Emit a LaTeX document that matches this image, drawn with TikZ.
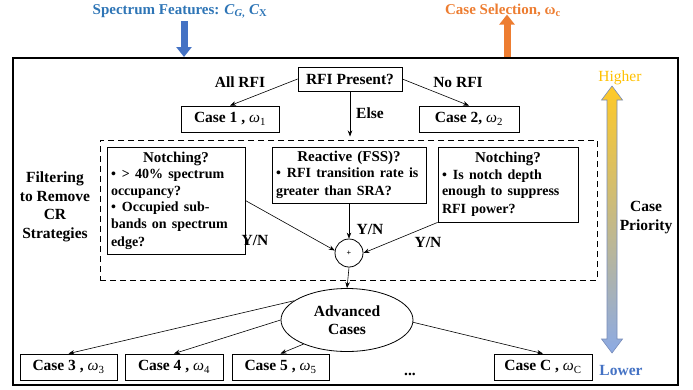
\documentclass[tikz,border=0pt]{standalone}
\usepackage{fontspec}
\setmainfont{Liberation Serif}
\usetikzlibrary{arrows.meta,shapes.geometric}

\definecolor{featblue}{RGB}{46,117,182}
\definecolor{featarrow}{RGB}{68,114,196}
\definecolor{selorange}{RGB}{237,125,49}
\definecolor{hiyellow}{RGB}{255,192,0}
\definecolor{loblue}{RGB}{68,114,196}
\definecolor{prioedge}{RGB}{120,140,185}

\newcommand{\qitem}[1]{\par\hangindent=11pt\hangafter=1\noindent\makebox[11pt][l]{\textbullet}#1}
\newcommand{\wt}[1]{{\mdseries\itshape ω}\textsubscript{\mdseries #1}}

\begin{document}
\begin{tikzpicture}[x=1pt, y=-1pt,
    font=\bfseries\fontsize{15.5}{18}\selectfont,
    box/.style={draw, line width=0.8pt, inner sep=0pt, minimum height=26pt},
    qbox/.style={draw, line width=0.8pt, inner xsep=4pt, inner ysep=0pt},
    lbl/.style={inner sep=0pt},
    link/.style={-{Stealth[length=6pt,width=4.5pt]}, line width=0.6pt},
    fat/.style={line width=7pt, -{Triangle[width=15pt,length=10pt]}}]
    \useasboundingbox (0,0) rectangle (693,389);

    \node[draw, line width=2.5pt, minimum width=665, minimum height=327, inner sep=0pt] (frame) at (345.5,221.5) {};

    \node[lbl, text=featblue, font=\bfseries\fontsize{15}{18}\selectfont] (feat) at (180,11) {Spectrum Features: \textit{C}\textsubscript{\textit{G},} \textit{C}\textsubscript{X}};
    \node[lbl, text=selorange, font=\bfseries\fontsize{15}{18}\selectfont] (sel) at (503,10) {Case Selection, ω\textsubscript{c}};
    \coordinate (featin) at (184,57);
    \coordinate (selout) at (507,57);
    \draw[fat, featarrow] (featin |- feat.south) ++(0,3) -- (featin);
    \draw[fat, selorange] (selout) -- ([yshift=2pt]selout |- sel.south);

    \node[box, minimum width=104, minimum height=24] (rfi) at (350,79) {RFI Present?};
    \node[box, minimum width=98] (c1) at (230,119) {Case 1 , \wt{1}};
    \node[box, minimum width=100] (c2) at (469,119) {Case 2, \wt{2}};
    \node[lbl] (allrfi) at (240,82) {All RFI};
    \node[lbl] (norfi) at (458,82) {No RFI};
    \node[lbl] (else) at (370,113) {Else};

    \node[draw, line width=1pt, dash pattern=on 6pt off 4pt, minimum width=497, minimum height=140, inner sep=0pt] (filt) at (348.5,210) {};

    \node[qbox, text width=130pt, minimum height=107] (notch1) at (176,200.5) {%
        \centering\fontsize{15}{17}\selectfont Notching?\par\raggedright\fontsize{14}{16.5}\selectfont
        \qitem{> 40\% spectrum\\occupancy?}
        \qitem{Occupied sub-\\bands on spectrum\\edge?}};
    \node[qbox, text width=146pt, minimum height=56] (react) at (349,175) {%
        \centering\fontsize{15}{17}\selectfont Reactive (FSS)?\par\raggedright\fontsize{14}{16.5}\selectfont
        \qitem{RFI transition rate is\\greater than SRA?}};
    \node[qbox, text width=132pt, minimum height=75] (notch2) at (508,184.5) {%
        \centering\fontsize{15}{17}\selectfont Notching?\par\raggedright\fontsize{14}{16.5}\selectfont
        \qitem{Is notch depth\\enough to suppress\\RFI power?}};

    \node[circle, draw, line width=0.8pt, minimum size=28, inner sep=0pt] (sum) at (349,253) {\fontsize{8}{8}\selectfont +};
    \node[lbl] (yn1) at (255,240) {Y/N};
    \node[lbl] (yn2) at (370,229) {Y/N};
    \node[lbl] (yn3) at (428,242) {Y/N};

    \node[lbl, align=center, font=\bfseries\fontsize{15.5}{18.5}\selectfont] (filtlbl) at (55,207) {Filtering\\to Remove\\CR\\Strategies};
    \node[lbl, align=center, font=\bfseries\fontsize{15.5}{19}\selectfont] (prio) at (646,217.5) {Case\\Priority};

    \shade[top color=hiyellow!85!white, middle color={rgb,255:red,215;green,220;blue,175}, bottom color={rgb,255:red,140;green,170;blue,228}, draw=prioedge, line width=0.6pt]
        (612,86) -- (622.5,100) -- (617,100) -- (617,339) -- (622.5,339) -- (612,353)
        -- (601.5,339) -- (607,339) -- (607,100) -- (601.5,100) -- cycle;
    \node[lbl, text=hiyellow, font=\mdseries\fontsize{15.5}{18}\selectfont] (higher) at (620,78) {Higher};
    \node[lbl, text=loblue] (lower) at (621,370) {Lower};

    \node[ellipse, draw, line width=0.8pt, minimum width=132, minimum height=63, inner sep=0pt, align=center] (adv) at (347,320) {Advanced\\Cases};

    \node[box, minimum width=97] (c3) at (68.5,367) {Case 3 , \wt{3}};
    \node[box, minimum width=98] (c4) at (174,367) {Case 4 , \wt{4}};
    \node[box, minimum width=97] (c5) at (280.5,367) {Case 5 , \wt{5}};
    \node[lbl, anchor=base] (dots) at (410,375) {...};
    \node[box, minimum width=98] (cc) at (543,367) {Case C , \wt{C}};

    \draw[link] (rfi.west) -- (c1.north);
    \draw[link] (rfi.east) -- (c2.north);
    \draw[link, shorten >=3pt] (rfi.south) -- (rfi.south |- filt.north);
    \draw[link] (notch1.east) -- (sum.170);
    \draw[link] (react.south) -- (sum.north);
    \draw[link] (notch2.south west) -- (sum.east);
    \draw[link] (sum.south) -- (adv.north);
    \draw[link] (adv.160) -- (c3.north);
    \draw[link] (adv.180) -- (c4.north);
    \draw[link] (adv.209) -- (c5.north);
    \draw[link] (adv.358) -- (cc.north);
\end{tikzpicture}
\end{document}
